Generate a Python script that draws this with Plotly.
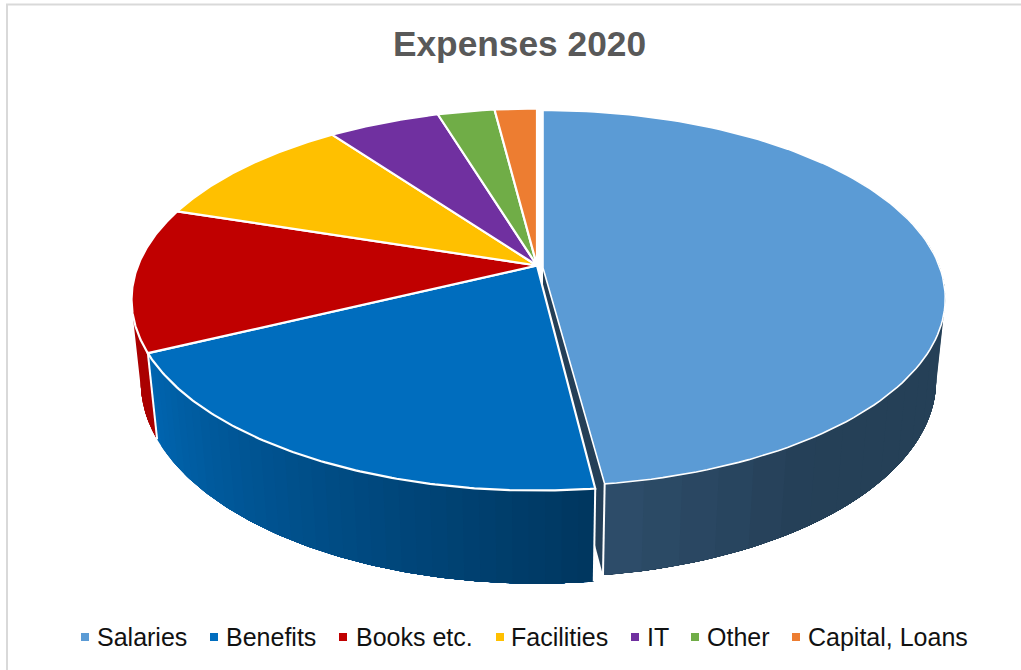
import numpy as np
import plotly.graph_objects as go

categories = ["Salaries", "Benefits", "Books etc.", "Facilities", "IT", "Other", "Capital, Loans"]
values = [48, 19.8, 12.2, 10, 5.3, 2.7, 2]
colors = ["#5B9BD5", "#006DBE", "#C00000", "#FFC000", "#7030A0", "#70AD47", "#ED7D31"]
title_text = "Expenses 2020"

# projection of the pie plane onto the page (pixels)
R = 399.0
R_EXPLODED = 397.0
RY = 185.0
RY_EXPLODED = 183.0
K = 0.178
DEPTH = 0.0218
VANISH = (540.0, 4000.0)
CENTER = (537.0, 265.5)
CENTER_EXPLODED = (543.0, 268.0)
K_EXPLODED = 0.161
CUT_TRIM = np.radians(0.3)

# legend layout (pixels)
LEGEND_KEY_LEFT = [81, 210, 339, 496, 631, 691, 792]
LEGEND_TEXT_LEFT = [97, 226, 356, 511, 647, 707, 808]
LEGEND_Y = 637


def top_point(theta, c=CENTER, k=K):
    exploded = c is CENTER_EXPLODED
    r = R_EXPLODED if exploded else R
    ry = RY_EXPLODED if exploded else RY
    x, y = np.sin(theta), np.cos(theta)
    w = 1 + k * y
    return c[0] + r * x / w, c[1] - ry * y / w


def bottom_point(theta, c=CENTER, k=K):
    px, py = top_point(theta, c, k)
    w = 1 + k * np.cos(theta)
    t = DEPTH / w
    return px + (VANISH[0] - px) * t, py + (VANISH[1] - py) * t


def apex_bottom(c):
    t = DEPTH
    return c[0] + (VANISH[0] - c[0]) * t, c[1] + (VANISH[1] - c[1]) * t


def hex_rgb(h):
    return tuple(int(h[i:i + 2], 16) for i in (1, 3, 5))


def shaded(h, f):
    r, g, b = hex_rgb(h)
    return f"rgb({r * f:.0f},{g * f:.0f},{b * f:.0f})"


fractions = np.array(values, dtype=float) / sum(values)
edges = np.concatenate([[0.0], np.cumsum(fractions)]) * 2 * np.pi

fig = go.Figure()


def poly(xs, ys, fill, line="white", lw=0.0, name=None):
    fig.add_trace(go.Scatter(
        x=list(xs), y=list(ys), mode="lines", fill="toself", fillcolor=fill,
        line=dict(color=line, width=lw), showlegend=False,
        hoverinfo="text" if name else "skip", text=name,
    ))


def wall(a, b, color, shade_th, shade_f, c=CENTER, k=K, n=36):
    # nested strips: each one reaches to the far end, the next paints over it,
    # so there are no anti-aliasing seams between neighbours
    grid = np.linspace(a, b, n + 1)
    for i in range(n):
        ths = np.linspace(grid[i], b, max(4, 3 * (n - i)))
        tx, ty = top_point(ths, c, k)
        bx, by = bottom_point(ths, c, k)
        f = float(np.interp((grid[i] + grid[i + 1]) / 2, shade_th, shade_f))
        poly(np.r_[tx, bx[::-1], tx[0]], np.r_[ty, by[::-1], ty[0]], shaded(color, f))


def face(a, b, c=CENTER, k=K):
    ths = np.linspace(a, b, 120)
    x, y = top_point(ths, c, k)
    return np.r_[c[0], x, c[0]], np.r_[c[1], y, c[1]]


def seam(a, c=CENTER, k=K):
    x1, y1 = top_point(a, c, k)
    x2, y2 = bottom_point(a, c, k)
    fig.add_trace(go.Scatter(x=[x1, x2], y=[y1, y2], mode="lines", line=dict(color="white", width=2),
                             showlegend=False, hoverinfo="skip"))


# first slice: its cut face and wall lie behind everything else
s_end = edges[1] - CUT_TRIM
b_start = edges[1] + CUT_TRIM
ax, ay = CENTER_EXPLODED
ex, ey = top_point(s_end, CENTER_EXPLODED, K_EXPLODED)
fx, fy = bottom_point(s_end, CENTER_EXPLODED, K_EXPLODED)
gx, gy = apex_bottom(CENTER_EXPLODED)
poly([ax, ex, fx, gx, ax], [ay, ey, fy, gy, ay], "#243F57")
wall(np.radians(55), s_end, colors[0],
     [np.radians(55), np.radians(145), s_end], [0.41, 0.41, 0.5],
     CENTER_EXPLODED, K_EXPLODED, n=24)
seam(s_end, CENTER_EXPLODED, K_EXPLODED)

# third slice wall, then second slice wall (painter's order)
wall(np.radians(285), edges[2], colors[2], [edges[2], np.radians(285)], [0.88, 0.92], n=6)
wall(edges[2], b_start, colors[1], [b_start, edges[2]], [0.5, 0.93], n=36)
seam(b_start)
seam(edges[2])

# top faces
x, y = face(edges[0], s_end, CENTER_EXPLODED, K_EXPLODED)
poly(x, y, colors[0], line="white", lw=1.6, name=categories[0])
x, y = face(b_start, edges[2])
poly(x, y, colors[1], line="white", lw=2.2, name=categories[1])
for i in range(2, len(values)):
    x, y = face(edges[i], edges[i + 1])
    poly(x, y, colors[i], line="white", lw=2.2, name=categories[i])

# legend: coloured keys and real text, one per category
shapes = [dict(type="rect", xref="x", yref="y", x0=7, x1=1040, y0=4.5, y1=700,
               line=dict(color="#D9D9D9", width=2), layer="below")]
annotations = []
for name, col, kx, tx in zip(categories, colors, LEGEND_KEY_LEFT, LEGEND_TEXT_LEFT):
    shapes.append(dict(type="rect", xref="x", yref="y", x0=kx, x1=kx + 8,
                       y0=LEGEND_Y - 4, y1=LEGEND_Y + 4, fillcolor=col, line=dict(width=0)))
    annotations.append(dict(text=name, x=tx, y=LEGEND_Y, xref="x", yref="y", xanchor="left",
                            yanchor="middle", showarrow=False, borderpad=0, borderwidth=0,
                            font=dict(family="Liberation Sans", size=25, color="#111111")))

fig.update_layout(
    width=1021, height=670,
    margin=dict(l=0, r=0, t=0, b=0),
    paper_bgcolor="white", plot_bgcolor="white",
    showlegend=False,
    title=dict(text=f"<b>{title_text}</b>", x=0.5088, xanchor="center", y=0.9355, yanchor="middle",
               font=dict(family="Liberation Sans", size=35.3, color="#595959")),
    font=dict(family="Liberation Sans"),
    xaxis=dict(range=[0, 1021], visible=False, fixedrange=True),
    yaxis=dict(range=[670, 0], visible=False, fixedrange=True),
    shapes=shapes,
    annotations=annotations,
)

fig.write_html("out.html", config={"displayModeBar": False},
               post_script="document.body.style.margin='0';")
